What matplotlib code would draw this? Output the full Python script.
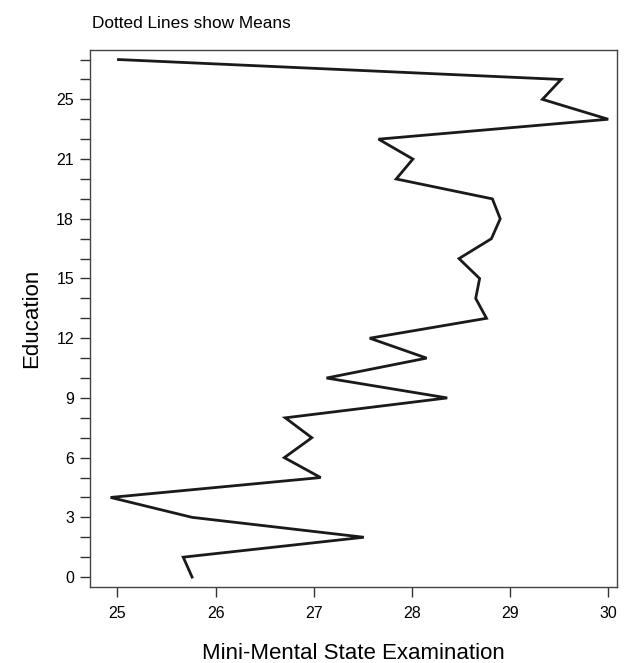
import numpy as np
import matplotlib
matplotlib.use("Agg")
import matplotlib.pyplot as plt

plt.rcParams['font.family'] = ['Liberation Sans', 'DejaVu Sans']

# education levels observed (categorical axis) and mean MMSE per level
edu_levels = [0, 1, 2, 3, 4, 5, 6, 7, 8, 9, 10, 11, 12, 13, 14, 15, 16, 17,
              18, 19, 20, 21, 22, 24, 25, 26, 28]
mmse_mean = [25.76, 25.67, 27.51, 25.76, 24.93, 27.07, 26.70, 26.98, 26.71,
             28.36, 27.13, 28.15, 27.57, 28.76, 28.65, 28.69, 28.48, 28.81,
             28.90, 28.82, 27.84, 28.01, 27.66, 30.0, 29.33, 29.52, 25.01]
x_ticks = [25, 26, 27, 28, 29, 30]

pos = np.arange(len(edu_levels))

fig = plt.figure(figsize=(6.32, 6.63), dpi=100)
ax = fig.add_axes([0.1424, 0.1146, 0.8339, 0.81])

ax.plot(mmse_mean, pos, color='#1a1a1a', lw=2.0, solid_joinstyle='miter')

ax.set_xlim(24.72, 30.09)
ax.set_ylim(-0.5, 26.48)
ax.set_xticks(x_ticks)
ax.set_xticklabels([str(t) for t in x_ticks])
ax.set_yticks(pos)
ax.set_yticklabels([str(l) if i % 3 == 0 else '' for i, l in enumerate(edu_levels)])

ax.tick_params(direction='out', length=7.5, width=1, color='#333333',
               labelsize=11.5)
ax.tick_params(axis='x', pad=6)
ax.tick_params(axis='y', pad=4)
for s in ax.spines.values():
    s.set_color('#444444')
    s.set_linewidth(1)

ax.set_xlabel('Mini-Mental State Examination', fontsize=16, labelpad=16)
ax.set_ylabel('Education', fontsize=16, labelpad=10)
fig.text(0.146, 0.964, 'Dotted Lines show Means', fontsize=12.4, ha='left', va='center')

fig.savefig('out.png', dpi=100)
